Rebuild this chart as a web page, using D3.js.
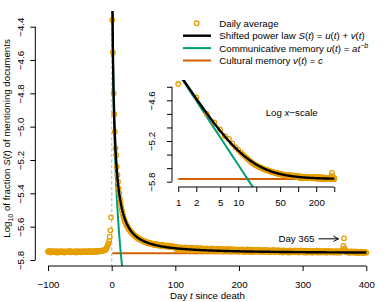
<!DOCTYPE html>
<html>
<head>
<meta charset="utf-8">
<script src="https://cdnjs.cloudflare.com/ajax/libs/d3/7.8.5/d3.min.js"></script>
<style>
  body { margin: 0; background: #ffffff; }
  svg text { font-family: "Liberation Sans", Arial, Helvetica, sans-serif; font-size: 9.7px; fill: #000000; }
</style>
</head>
<body>
<div id="chart_div"></div>
<script>
/*******************************************************
 * Description: decay of mentions after death (D3 v7)  *
 *******************************************************/

/********
 * Data *
 ********/

// daily average of log10 S(t), days -100 .. -1
var gvFirstDayBefore = -100;
var gvBeforeValues = [
  -5.748,-5.752,-5.746,-5.750,-5.755,-5.749,-5.751,-5.747,-5.753,-5.750,
  -5.749,-5.754,-5.751,-5.747,-5.750,-5.756,-5.752,-5.748,-5.751,-5.753,
  -5.750,-5.747,-5.752,-5.754,-5.749,-5.751,-5.755,-5.750,-5.748,-5.752,
  -5.751,-5.749,-5.753,-5.750,-5.746,-5.752,-5.754,-5.749,-5.751,-5.750,
  -5.753,-5.748,-5.750,-5.752,-5.755,-5.749,-5.747,-5.751,-5.753,-5.750,
  -5.748,-5.751,-5.754,-5.749,-5.750,-5.752,-5.747,-5.750,-5.753,-5.749,
  -5.751,-5.748,-5.750,-5.753,-5.749,-5.746,-5.751,-5.752,-5.748,-5.750,
  -5.749,-5.752,-5.747,-5.750,-5.748,-5.751,-5.746,-5.749,-5.747,-5.750,
  -5.746,-5.748,-5.745,-5.747,-5.744,-5.746,-5.743,-5.745,-5.741,-5.740,
  -5.740,-5.735,-5.730,-5.720,-5.710,-5.700,-5.685,-5.660,-5.622,-5.544
];

// daily average of log10 S(t), days 1 .. 400
var gvFirstDayAfter = 1;
var gvAfterValues = [
  -4.360,-4.556,-4.800,-4.925,-5.030,-5.130,-5.170,-5.240,-5.290,-5.330,
  -5.370,-5.400,-5.430,-5.455,-5.480,-5.500,-5.520,-5.535,-5.550,-5.560,
  -5.570,-5.580,-5.590,-5.595,-5.600,-5.610,-5.615,-5.620,-5.625,-5.630,
  -5.632,-5.638,-5.641,-5.647,-5.650,-5.652,-5.657,-5.660,-5.662,-5.666,
  -5.668,-5.672,-5.670,-5.676,-5.679,-5.677,-5.682,-5.685,-5.683,-5.688,
  -5.690,-5.687,-5.693,-5.695,-5.692,-5.698,-5.696,-5.700,-5.697,-5.702,
  -5.699,-5.704,-5.701,-5.706,-5.703,-5.708,-5.705,-5.710,-5.707,-5.704,
  -5.709,-5.712,-5.708,-5.713,-5.710,-5.715,-5.711,-5.716,-5.713,-5.709,
  -5.714,-5.717,-5.712,-5.718,-5.715,-5.720,-5.716,-5.713,-5.719,-5.721,
  -5.717,-5.722,-5.718,-5.715,-5.723,-5.720,-5.724,-5.719,-5.722,-5.725,
  -5.728,-5.735,-5.722,-5.740,-5.731,-5.726,-5.738,-5.733,-5.724,-5.737,
  -5.730,-5.742,-5.727,-5.734,-5.739,-5.725,-5.736,-5.731,-5.743,-5.729,
  -5.735,-5.728,-5.741,-5.733,-5.738,-5.726,-5.744,-5.732,-5.736,-5.730,
  -5.739,-5.734,-5.727,-5.741,-5.735,-5.730,-5.745,-5.733,-5.738,-5.729,
  -5.742,-5.736,-5.731,-5.740,-5.734,-5.746,-5.732,-5.737,-5.743,-5.730,
  -5.738,-5.744,-5.733,-5.740,-5.735,-5.747,-5.731,-5.739,-5.742,-5.736,
  -5.733,-5.745,-5.738,-5.741,-5.734,-5.748,-5.737,-5.732,-5.743,-5.739,
  -5.746,-5.735,-5.740,-5.744,-5.733,-5.749,-5.738,-5.742,-5.736,-5.745,
  -5.739,-5.734,-5.747,-5.741,-5.737,-5.744,-5.750,-5.735,-5.742,-5.738,
  -5.745,-5.740,-5.736,-5.748,-5.742,-5.737,-5.746,-5.739,-5.751,-5.743,
  -5.738,-5.747,-5.741,-5.744,-5.736,-5.749,-5.743,-5.739,-5.752,-5.745,
  -5.740,-5.746,-5.737,-5.750,-5.744,-5.741,-5.748,-5.738,-5.745,-5.753,
  -5.742,-5.747,-5.739,-5.751,-5.744,-5.740,-5.749,-5.743,-5.746,-5.738,
  -5.750,-5.744,-5.741,-5.748,-5.753,-5.742,-5.746,-5.739,-5.751,-5.745,
  -5.743,-5.749,-5.740,-5.752,-5.746,-5.741,-5.748,-5.754,-5.744,-5.747,
  -5.742,-5.750,-5.745,-5.739,-5.748,-5.753,-5.743,-5.747,-5.751,-5.744,
  -5.749,-5.741,-5.746,-5.752,-5.745,-5.750,-5.743,-5.748,-5.755,-5.746,
  -5.742,-5.749,-5.753,-5.745,-5.750,-5.744,-5.748,-5.756,-5.747,-5.743,
  -5.751,-5.746,-5.749,-5.754,-5.745,-5.750,-5.742,-5.748,-5.753,-5.747,
  -5.744,-5.752,-5.748,-5.755,-5.746,-5.750,-5.743,-5.749,-5.754,-5.747,
  -5.751,-5.745,-5.750,-5.756,-5.748,-5.744,-5.752,-5.747,-5.755,-5.749,
  -5.746,-5.753,-5.748,-5.751,-5.757,-5.745,-5.750,-5.754,-5.747,-5.752,
  -5.749,-5.744,-5.751,-5.756,-5.748,-5.753,-5.746,-5.750,-5.755,-5.748,
  -5.752,-5.747,-5.754,-5.749,-5.745,-5.751,-5.757,-5.748,-5.753,-5.750,
  -5.746,-5.752,-5.749,-5.755,-5.748,-5.751,-5.747,-5.754,-5.750,-5.756,
  -5.749,-5.753,-5.747,-5.751,-5.756,-5.748,-5.752,-5.750,-5.755,-5.749,
  -5.746,-5.743,-5.738,-5.716,-5.670,-5.730,-5.742,-5.748,-5.753,-5.750,
  -5.755,-5.749,-5.752,-5.757,-5.750,-5.754,-5.748,-5.753,-5.756,-5.751,
  -5.749,-5.755,-5.752,-5.757,-5.750,-5.754,-5.758,-5.751,-5.755,-5.752,
  -5.756,-5.750,-5.754,-5.758,-5.752,-5.755,-5.751,-5.757,-5.753,-5.756
];

// fitted shifted power law S(t) = a t^-b + c (a and c as log10)
var gvFitLogA = -4.2;
var gvFitB = 1.35;
var gvFitLogC = -5.76;

// axes
var gvMainXTicks = [-100, 0, 100, 200, 300, 400];
var gvMainYTicks = [-5.8, -5.6, -5.4, -5.2, -5.0, -4.8, -4.6, -4.4];
var gvInsetXTicks = [1, 2, 5, 10, 20, 50, 100, 200, 400];
var gvInsetXLabels = [1, 2, 5, 10, 50, 200];
var gvInsetYTicks = [-5.8, -5.6, -5.4, -5.2, -5.0, -4.8, -4.6, -4.4];
var gvInsetYLabels = [-5.8, -5.2, -4.6];

var gvHighlightDay = 365;

/*
 * Global variables
 */
var gvOrange = '#E69F00';
var gvGreen = '#009E73';
var gvRed = '#D55E00';

/*********
 * Build *
 *********/

function buildChart() {

  var lvDaily = [];
  gvBeforeValues.forEach(function(v, i) { lvDaily.push({t: gvFirstDayBefore + i, v: v}); });
  gvAfterValues.forEach(function(v, i) { lvDaily.push({t: gvFirstDayAfter + i, v: v}); });
  var lvAfter = lvDaily.filter(function(d) { return d.t >= 1; });

  // fitted curves evaluated on the observed days
  var lvFit = lvAfter.map(function(d) {
    var u = Math.pow(10, gvFitLogA) * Math.pow(d.t, -gvFitB);
    var c = Math.pow(10, gvFitLogC);
    return {t: d.t, u: Math.log10(u), v: gvFitLogC, s: Math.log10(u + c)};
  });

  var svg = d3.select('#chart_div').append('svg')
    .attr('width', 390)
    .attr('height', 302)
    .style('display', 'block');

  svg.append('rect').attr('width', 390).attr('height', 302).attr('fill', '#ffffff');

  var defs = svg.append('defs');

  /*
   * Main panel
   */
  var x = d3.scaleLinear().domain([-120, 420]).range([35.3, 379]);
  var y = d3.scaleLinear().domain([-5.836, -4.306]).range([266, 11]);

  defs.append('clipPath').attr('id', 'clipMain').append('rect')
    .attr('x', 35.3).attr('y', 11).attr('width', 379 - 35.3).attr('height', 266 - 11);

  var gMain = svg.append('g').attr('clip-path', 'url(#clipMain)');

  gMain.append('line')
    .attr('x1', x(0)).attr('x2', x(0))
    .attr('y1', 11).attr('y2', 266)
    .attr('stroke', '#c8c8c8')
    .attr('stroke-width', 1.4)
    .attr('stroke-dasharray', '3,2.5');

  drawCurves(gMain, x, y, lvFit, lvDaily);

  drawXAxis(svg, x, 266, gvMainXTicks, gvMainXTicks, d3.format('d'), 21.8);
  drawYAxis(svg, y, 35.3, gvMainYTicks, gvMainYTicks, 11.8);

  var xTitle = svg.append('text')
    .attr('x', 207.5).attr('y', 298.8)
    .attr('text-anchor', 'middle');
  xTitle.append('tspan').text('Day ');
  xTitle.append('tspan').attr('font-style', 'italic').text('t');
  xTitle.append('tspan').text(' since death');

  var yTitle = svg.append('text')
    .attr('transform', 'translate(10.3,138.5) rotate(-90)')
    .attr('text-anchor', 'middle');
  yTitle.append('tspan').text('Log');
  yTitle.append('tspan').attr('font-size', '7px').attr('dy', 2.5).text('10');
  yTitle.append('tspan').attr('dy', -2.5).text(' of fraction ');
  yTitle.append('tspan').attr('font-style', 'italic').text('S');
  yTitle.append('tspan').text('(');
  yTitle.append('tspan').attr('font-style', 'italic').text('t');
  yTitle.append('tspan').text(') of mentioning documents');

  // day 365 annotation
  var lvPeak = lvDaily.filter(function(d) { return d.t === gvHighlightDay; })[0];
  var lvTipX = x(lvPeak.t) - 5.5;
  var lvTipY = y(lvPeak.v) + 0.5;
  svg.append('text')
    .attr('x', lvTipX - 24).attr('y', lvTipY + 3.5)
    .attr('text-anchor', 'end')
    .text('Day ' + gvHighlightDay);
  svg.append('path')
    .attr('d', 'M' + (lvTipX - 20) + ',' + lvTipY + 'H' + lvTipX +
      'M' + (lvTipX - 5) + ',' + (lvTipY - 2.6) + 'L' + lvTipX + ',' + lvTipY + 'L' + (lvTipX - 5) + ',' + (lvTipY + 2.6))
    .attr('fill', 'none')
    .attr('stroke', '#000')
    .attr('stroke-width', 1);

  /*
   * Inset panel (log x)
   */
  var xi = d3.scaleLog().domain([Math.pow(10, -0.104), Math.pow(10, 2.706)]).range([172, 340.5]);
  var yi = d3.scaleLinear().domain([-5.878, -4.30]).range([187, 80]);

  defs.append('clipPath').attr('id', 'clipInset').append('rect')
    .attr('x', 172).attr('y', 80).attr('width', 340.5 - 172).attr('height', 187 - 80);

  var gInset = svg.append('g').attr('clip-path', 'url(#clipInset)');
  drawCurves(gInset, xi, yi, lvFit, lvAfter);

  drawXAxis(svg, xi, 187, gvInsetXTicks, gvInsetXLabels, d3.format('d'), 18.5);
  drawYAxis(svg, yi, 172, gvInsetYTicks, gvInsetYLabels, 16.8);

  var insetTitle = svg.append('text')
    .attr('x', 291.7).attr('y', 116)
    .attr('text-anchor', 'middle');
  insetTitle.append('tspan').text('Log ');
  insetTitle.append('tspan').attr('font-style', 'italic').text('x');
  insetTitle.append('tspan').text('\u2212scale');

  buildLegend(svg);
}

/*
 * Fitted lines and daily points for one panel
 */
function drawCurves(pvG, pvX, pvY, pvFit, pvPoints) {

  var lvLine = function(key) {
    return d3.line()
      .x(function(d) { return pvX(d.t); })
      .y(function(d) { return pvY(d[key]); });
  };

  pvG.append('path').datum(pvFit)
    .attr('d', lvLine('v'))
    .attr('fill', 'none').attr('stroke', gvRed).attr('stroke-width', 2);

  pvG.append('path').datum(pvFit)
    .attr('d', lvLine('u'))
    .attr('fill', 'none').attr('stroke', gvGreen).attr('stroke-width', 2);

  pvG.selectAll('.pt').data(pvPoints).enter()
    .append('circle')
    .attr('class', 'pt')
    .attr('cx', function(d) { return pvX(d.t); })
    .attr('cy', function(d) { return pvY(d.v); })
    .attr('r', 2.3)
    .attr('fill', 'none')
    .attr('stroke', gvOrange)
    .attr('stroke-width', 1.3);

  pvG.append('path').datum(pvFit)
    .attr('d', lvLine('s'))
    .attr('fill', 'none').attr('stroke', '#000').attr('stroke-width', 2.4);
}

/*
 * R style axes: the axis line only spans the ticks
 */
function drawXAxis(pvSvg, pvScale, pvY, pvTicks, pvLabels, pvFormat, pvLabelOffset) {

  var axis = d3.axisBottom(pvScale)
    .tickValues(pvTicks)
    .tickSize(5)
    .tickFormat(function(d) { return pvLabels.indexOf(d) >= 0 ? pvFormat(d) : ''; });

  var g = pvSvg.append('g').attr('transform', 'translate(0,' + pvY + ')').call(axis);
  g.select('.domain').remove();
  g.selectAll('text').attr('y', pvLabelOffset).attr('dy', null)
    .attr('font-family', null).attr('font-size', null);
  g.attr('font-family', null).attr('font-size', null);
  g.selectAll('line').attr('stroke', '#000');
  g.append('line')
    .attr('x1', pvScale(pvTicks[0])).attr('x2', pvScale(pvTicks[pvTicks.length - 1]))
    .attr('stroke', '#000');
}

function drawYAxis(pvSvg, pvScale, pvX, pvTicks, pvLabels, pvLabelOffset) {

  var fmt = d3.format('.1f');
  var axis = d3.axisLeft(pvScale)
    .tickValues(pvTicks)
    .tickSize(5)
    .tickFormat(function(d) { return pvLabels.indexOf(d) >= 0 ? fmt(d) : ''; });

  var g = pvSvg.append('g').attr('transform', 'translate(' + pvX + ',0)').call(axis);
  g.select('.domain').remove();
  g.attr('font-family', null).attr('font-size', null);
  g.selectAll('text')
    .attr('x', 0).attr('y', -pvLabelOffset).attr('dy', null)
    .attr('transform', 'rotate(-90)')
    .attr('text-anchor', 'middle');
  g.selectAll('line').attr('stroke', '#000');
  g.append('line')
    .attr('y1', pvScale(pvTicks[0])).attr('y2', pvScale(pvTicks[pvTicks.length - 1]))
    .attr('stroke', '#000');
}

/*
 * Legend
 */
function buildLegend(pvSvg) {

  var lvRows = [
    {kind: 'point', parts: [['Daily average', false]]},
    {kind: 'line', color: '#000', width: 2.4, parts: [['Shifted power law ', false], ['S', true], ['(', false], ['t', true], [') = ', false], ['u', true], ['(', false], ['t', true], [') + ', false], ['v', true], ['(', false], ['t', true], [')', false]]},
    {kind: 'line', color: gvGreen, width: 2, parts: [['Communicative memory ', false], ['u', true], ['(', false], ['t', true], [') = ', false], ['at', true]], sup: '\u2212b'},
    {kind: 'line', color: gvRed, width: 2, parts: [['Cultural memory ', false], ['v', true], ['(', false], ['t', true], [') = ', false], ['c', true]]}
  ];

  var g = pvSvg.append('g');

  lvRows.forEach(function(row, i) {
    var cy = 23.3 + i * 12.4;
    if (row.kind === 'point') {
      g.append('circle').attr('cx', 196.7).attr('cy', cy).attr('r', 2.3)
        .attr('fill', 'none').attr('stroke', gvOrange).attr('stroke-width', 1.3);
    } else {
      g.append('line').attr('x1', 183).attr('x2', 211).attr('y1', cy).attr('y2', cy)
        .attr('stroke', row.color).attr('stroke-width', row.width);
    }
    var t = g.append('text').attr('x', 219.3).attr('y', cy + 3.5);
    row.parts.forEach(function(p) {
      var s = t.append('tspan').text(p[0]);
      if (p[1]) s.attr('font-style', 'italic');
    });
    if (row.sup) {
      t.append('tspan').attr('font-size', '7px').attr('dy', -4).attr('font-style', 'italic').text(row.sup);
    }
  });
}

buildChart();
</script>
</body>
</html>
